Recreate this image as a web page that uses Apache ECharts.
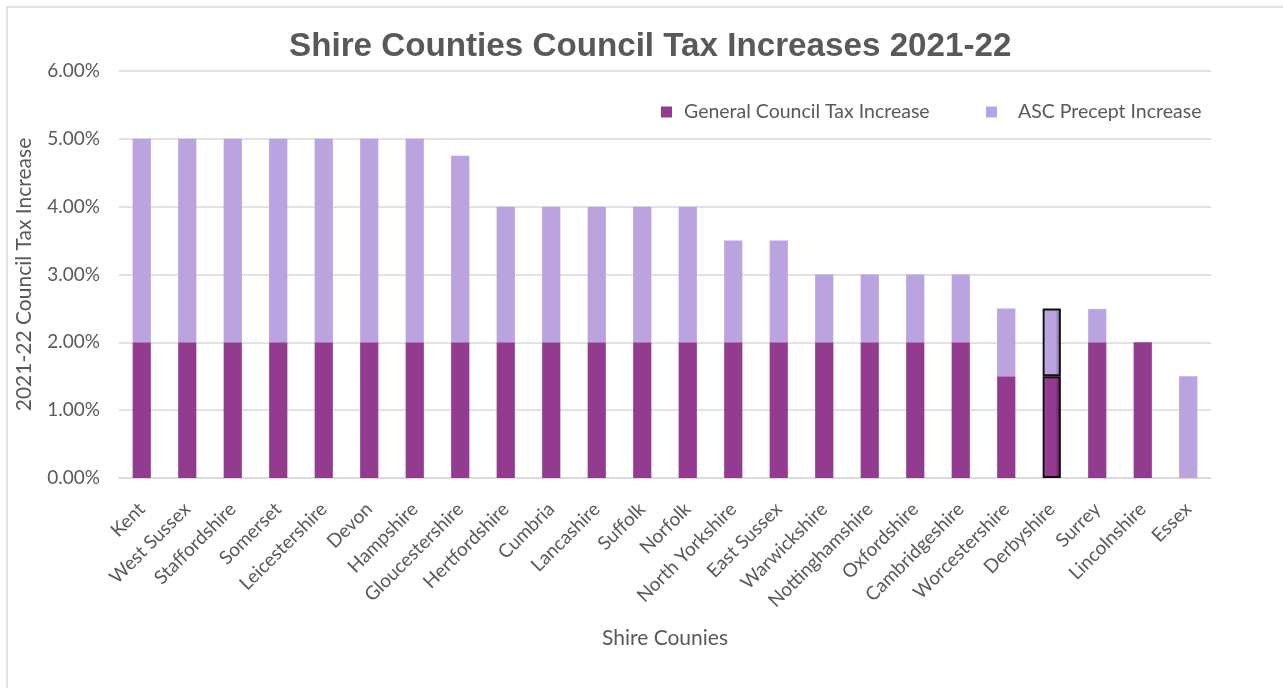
<!DOCTYPE html>
<html>
<head>
<meta charset="utf-8">
<script src="https://cdn.jsdelivr.net/npm/echarts@6/dist/echarts.min.js"></script>
<style>
  html, body { margin: 0; padding: 0; background: #fff; }
  #chart { width: 1283px; height: 688px; }
</style>
</head>
<body>
<div id="chart"></div>
<script>
// Shire counties, ordered by total 2021-22 increase
const counties = [
  'Kent', 'West Sussex', 'Staffordshire', 'Somerset', 'Leicestershire', 'Devon',
  'Hampshire', 'Gloucestershire', 'Hertfordshire', 'Cumbria', 'Lancashire', 'Suffolk',
  'Norfolk', 'North Yorkshire', 'East Sussex', 'Warwickshire', 'Nottinghamshire',
  'Oxfordshire', 'Cambridgeshire', 'Worcestershire', 'Derbyshire', 'Surrey',
  'Lincolnshire', 'Essex'
];
// Percentage points
const generalIncrease = [
  2, 2, 2, 2, 2, 2,
  2, 2, 2, 2, 2, 2,
  2, 2, 2, 2, 2,
  2, 2, 1.5, 1.5, 2,
  2, 0
];
const ascPrecept = [
  3, 3, 3, 3, 3, 3,
  3, 2.75, 2, 2, 2, 2,
  2, 1.5, 1.5, 1, 1,
  1, 1, 1, 1, 0.49,
  0, 1.5
];
const yTicks = [0, 1, 2, 3, 4, 5, 6];

const highlighted = 'Derbyshire';
const GENERAL = '#933b8f';
const ASC = '#bba3df';

// Bevelled fill for the selected bar
function bevel(base, light, dark) {
  return {
    type: 'linear', x: 0, y: 0, x2: 1, y2: 0,
    colorStops: [
      { offset: 0, color: light },
      { offset: 0.2, color: base },
      { offset: 0.7, color: base },
      { offset: 1, color: dark }
    ]
  };
}

function seriesData(values, base, light, dark) {
  return values.map((v, i) => {
    if (counties[i] === highlighted && v > 0) {
      return {
        value: v,
        itemStyle: { color: bevel(base, light, dark), borderColor: '#111', borderWidth: 2 }
      };
    }
    return v;
  });
}

const textColor = '#595959';
const font = 'Lato, "Open Sans", sans-serif';
const legendText = { fontFamily: font, fontSize: 19.5, color: textColor };

const chart = echarts.init(document.getElementById('chart'));
chart.setOption({
  backgroundColor: '#fff',
  animation: false,
  graphic: [{
    type: 'rect',
    shape: { x: 7, y: 7, width: 1300, height: 720 },
    style: { fill: 'none', stroke: '#d9d9d9', lineWidth: 1.5 },
    silent: true
  }],
  title: {
    text: 'Shire Counties Council Tax Increases 2021-22',
    left: 284,
    top: 25,
    textStyle: {
      fontFamily: '"Liberation Sans", Arial, sans-serif',
      fontWeight: 'bold',
      fontSize: 33.2,
      color: textColor
    }
  },
  legend: [
    {
      data: ['General Council Tax Increase'],
      left: 656,
      top: 97,
      itemWidth: 11,
      itemHeight: 11,
      icon: 'rect',
      textStyle: Object.assign({ padding: [0, 0, 0, 7] }, legendText)
    },
    {
      data: ['ASC Precept Increase'],
      left: 981,
      top: 97,
      itemWidth: 11,
      itemHeight: 11,
      icon: 'rect',
      textStyle: Object.assign({ padding: [0, 0, 0, 16] }, legendText)
    }
  ],
  grid: { left: 119, right: 72, top: 71, bottom: 210, containLabel: false },
  xAxis: {
    type: 'category',
    data: counties,
    name: 'Shire Counies',
    nameLocation: 'middle',
    nameGap: 150,
    nameTextStyle: { fontFamily: font, fontSize: 21, color: textColor },
    axisTick: { show: false },
    axisLine: { lineStyle: { color: '#d9d9d9', width: 1.5 } },
    axisLabel: {
      rotate: 45,
      interval: 0,
      margin: 28,
      fontFamily: font,
      fontSize: 19,
      color: textColor
    }
  },
  yAxis: {
    type: 'value',
    min: yTicks[0],
    max: yTicks[yTicks.length - 1],
    interval: 1,
    name: '2021-22 Council Tax Increase',
    nameLocation: 'middle',
    nameGap: 84,
    nameTextStyle: { fontFamily: font, fontSize: 21, color: textColor },
    axisLine: { show: false },
    axisTick: { show: false },
    splitLine: { lineStyle: { color: '#d9d9d9', width: 1.5 } },
    axisLabel: {
      margin: 19,
      fontFamily: font,
      fontSize: 19,
      color: textColor,
      formatter: v => v.toFixed(2) + '%'
    }
  },
  series: [
    {
      name: 'General Council Tax Increase',
      type: 'bar',
      stack: 'total',
      barWidth: '40%',
      itemStyle: { color: GENERAL },
      data: seriesData(generalIncrease, GENERAL, '#c06bb6', '#4f1a49')
    },
    {
      name: 'ASC Precept Increase',
      type: 'bar',
      stack: 'total',
      barWidth: '40%',
      itemStyle: { color: ASC },
      data: seriesData(ascPrecept, ASC, '#ddd0f3', '#6f5b8c')
    }
  ]
});
</script>
</body>
</html>
